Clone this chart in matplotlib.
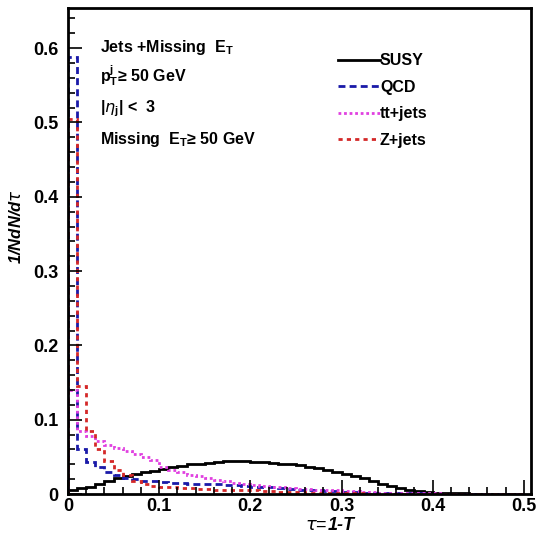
import numpy as np
import matplotlib
matplotlib.use("Agg")
import matplotlib.pyplot as plt
from matplotlib.ticker import MultipleLocator

# tau bins, width 0.01 from 0 to 0.5
bin_edges = np.linspace(0.0, 0.5, 51)

susy = [0.006, 0.008, 0.010, 0.013, 0.017, 0.021, 0.024, 0.027, 0.029, 0.031,
        0.034, 0.036, 0.038, 0.040, 0.041, 0.042, 0.043, 0.044, 0.044, 0.044,
        0.043, 0.043, 0.042, 0.041, 0.040, 0.039, 0.037, 0.035, 0.033, 0.030,
        0.027, 0.024, 0.021, 0.018, 0.014, 0.011, 0.008, 0.006, 0.004, 0.003,
        0.002, 0.001, 0.001, 0.001, 0.0005, 0.0, 0.0, 0.0, 0.0, 0.0]
qcd = [0.588, 0.060, 0.043, 0.036, 0.030, 0.026, 0.022, 0.020, 0.018, 0.017,
       0.016, 0.015, 0.015, 0.014, 0.014, 0.013, 0.013, 0.012, 0.012, 0.011,
       0.010, 0.010, 0.009, 0.008, 0.007, 0.006, 0.006, 0.005, 0.004, 0.004,
       0.003, 0.003, 0.002, 0.002, 0.002, 0.001, 0.001, 0.001, 0.001, 0.0,
       0.0, 0.0, 0.0, 0.0, 0.0, 0.0, 0.0, 0.0, 0.0, 0.0]
ttjets = [0.140, 0.085, 0.078, 0.072, 0.066, 0.062, 0.058, 0.054, 0.050, 0.046,
          0.036, 0.033, 0.029, 0.026, 0.024, 0.021, 0.019, 0.017, 0.015, 0.013,
          0.012, 0.011, 0.010, 0.009, 0.008, 0.007, 0.007, 0.006, 0.005, 0.005,
          0.004, 0.004, 0.003, 0.003, 0.002, 0.002, 0.002, 0.001, 0.001, 0.001,
          0.001, 0.0, 0.0, 0.0, 0.0, 0.0, 0.0, 0.0, 0.0, 0.0]
zjets = [0.505, 0.145, 0.085, 0.060, 0.045, 0.033, 0.025, 0.018, 0.014, 0.011,
         0.010, 0.009, 0.008, 0.008, 0.007, 0.007, 0.006, 0.006, 0.005, 0.005,
         0.005, 0.004, 0.004, 0.003, 0.003, 0.003, 0.002, 0.002, 0.002, 0.001,
         0.001, 0.001, 0.001, 0.0, 0.0, 0.0, 0.0, 0.0, 0.0, 0.0,
         0.0, 0.0, 0.0, 0.0, 0.0, 0.0, 0.0, 0.0, 0.0, 0.0]

labels = ["SUSY", "QCD", "tt+jets", "Z+jets"]

plt.rcParams['font.family'] = ['Liberation Sans', 'DejaVu Sans']

fig = plt.figure(figsize=(5.42, 5.37), dpi=100)
ax = fig.add_axes([0.1255, 0.080, 0.8545, 0.905])

ax.stairs(susy, bin_edges, color="black", lw=2.0, label=labels[0])
ax.stairs(qcd, bin_edges, color="#1a1aa8", lw=2.0, ls=(0, (2.5, 1.5)), label=labels[1])
ax.stairs(ttjets, bin_edges, color="#e040e0", lw=2.0, ls=(0, (1, 1)), label=labels[2])
ax.stairs(zjets, bin_edges, color="#d42828", lw=2.0, ls=(0, (1.5, 1.5)), label=labels[3])

ax.set_xlim(0, 0.508)
ax.set_ylim(0, 0.654)

ax.xaxis.set_minor_locator(MultipleLocator(0.02))
ax.yaxis.set_minor_locator(MultipleLocator(0.02))
ax.set_xticks([0, 0.1, 0.2, 0.3, 0.4, 0.5])
ax.set_xticklabels(["0", "0.1", "0.2", "0.3", "0.4", "0.5"])
ax.set_yticks([0, 0.1, 0.2, 0.3, 0.4, 0.5, 0.6])
ax.set_yticklabels(["0", "0.1", "0.2", "0.3", "0.4", "0.5", "0.6"])
ax.tick_params(which="both", direction="in", top=False, right=False,
               labelsize=13, width=1.2)
ax.tick_params(which="major", length=10)
ax.tick_params(axis="x", which="major", pad=3)
ax.tick_params(axis="y", which="major", pad=7)
ax.tick_params(which="minor", length=5)
for lab in ax.get_xticklabels() + ax.get_yticklabels():
    lab.set_fontweight("bold")
for sp in ax.spines.values():
    sp.set_linewidth(2.0)

ax.set_ylabel("1/NdN/d$\\tau$", fontsize=12, fontweight="bold", style="italic")
ax.yaxis.set_label_coords(-0.095, 0.55)
fig.text(0.605, 0.006, "$\\tau$=", fontsize=13, ha="right", va="bottom")
fig.text(0.605, 0.006, "1-T", fontsize=13, fontweight="bold", style="italic",
         ha="left", va="bottom")

tx = 0.07
ax.text(tx, 0.91, "Jets +Missing  E$_{\\mathregular{T}}$", transform=ax.transAxes,
        fontsize=11.5, fontweight="bold")
ax.text(tx, 0.848, "p$_{\\mathregular{T}}^{\\mathregular{j}}$\u2265 50 GeV",
        transform=ax.transAxes, fontsize=11.5, fontweight="bold")
ax.text(tx, 0.786, "|$\\eta_{\\mathregular{j}}$| <  3", transform=ax.transAxes,
        fontsize=11.5, fontweight="bold")
ax.text(tx, 0.72, "Missing  E$_{\\mathregular{T}}$\u2265 50 GeV", transform=ax.transAxes,
        fontsize=11.5, fontweight="bold")

leg = ax.legend(loc="upper left", bbox_to_anchor=(0.57, 0.92), frameon=False,
                fontsize=11.5, handlelength=2.6, handletextpad=0.0,
                labelspacing=0.72, borderaxespad=0)
for t in leg.get_texts():
    t.set_fontweight("bold")

fig.savefig("out.png", dpi=100)
